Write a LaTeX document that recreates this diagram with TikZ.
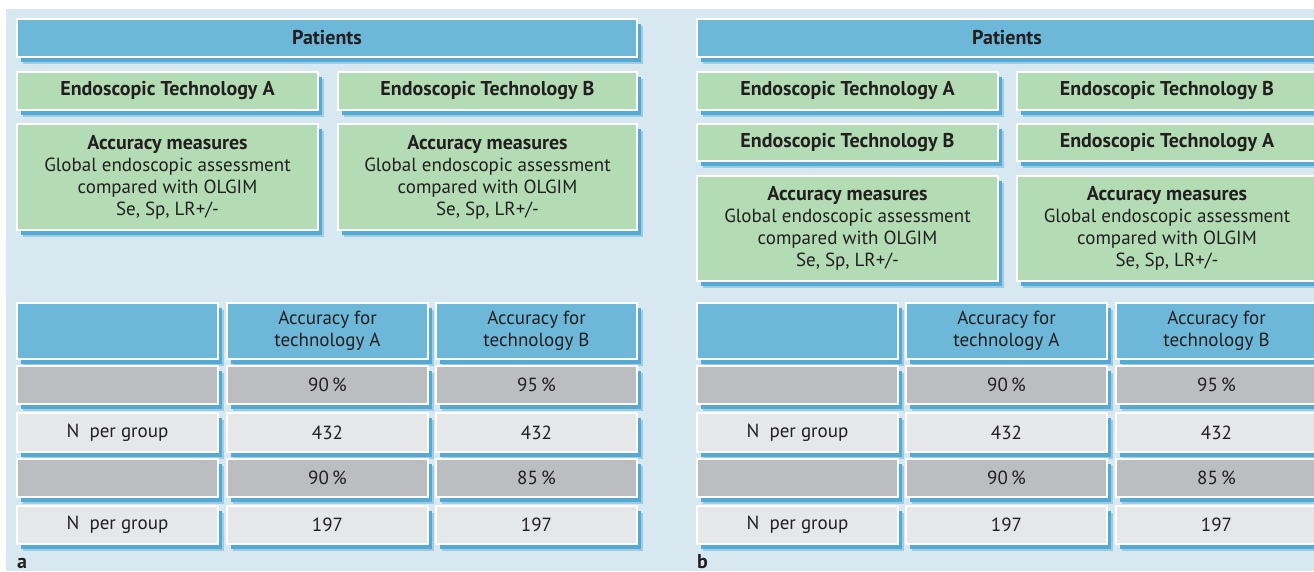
\documentclass[tikz,border=0pt]{standalone}
\usepackage{fontspec}
\setmainfont{PT Sans}
\usetikzlibrary{shadows}
\definecolor{bgc}{HTML}{D8E8F1}
\definecolor{hblue}{HTML}{6DB8D9}
\definecolor{gfill}{HTML}{B3DCB4}
\definecolor{dgray}{HTML}{BCBDC1}
\definecolor{lgray}{HTML}{E6E7E9}
\definecolor{shc}{HTML}{55AAD3}
\definecolor{txt}{HTML}{231F20}
\tikzset{
  cell/.style={draw=white, line width=1.4pt, inner sep=0pt, outer sep=0pt, anchor=north west,
    align=center, text=txt, font=\fontsize{19}{22}\selectfont,
    general shadow={shadow xshift=5.5pt, shadow yshift=-6.5pt, fill=shc!45!bgc},
    general shadow={shadow xshift=4pt, shadow yshift=-5pt, fill=shc}},
  hb/.style={cell, fill=hblue},
  gb/.style={cell, fill=gfill},
  dg/.style={cell, fill=dgray},
  lg/.style={cell, fill=lgray},
  bold/.style={font=\fontsize{20}{22}\selectfont\bfseries},
  plabel/.style={anchor=base west, inner sep=0pt, text=txt, font=\fontsize{20}{22}\selectfont\bfseries}
}
\newcommand{\accm}{{\fontsize{20}{22}\selectfont\bfseries Accuracy measures}\\Global endoscopic assessment\\compared with OLGIM\\Se, Sp, LR+/-}
\begin{document}
\begin{tikzpicture}[x=1pt, y=-1pt]
\clip (0,0) rectangle (1314,571);
\fill[white] (0,0) rectangle (1314,571);
\fill[bgc] (6,9) rectangle (1314,571);
% ---------- panel a ----------
\node[hb, bold, minimum width=620pt, minimum height=38pt] (pa) at (17,19) {Patients};
\node[gb, bold, minimum width=301pt, minimum height=38pt] (ta1) at (17,72) {Endoscopic Technology A};
\node[gb, bold, minimum width=299pt, minimum height=38pt] (ta2) at (338,72) {Endoscopic Technology B};
\node[gb, minimum width=301pt, minimum height=106pt] (aa1) at (17,124) {\accm};
\node[gb, minimum width=299pt, minimum height=106pt] (aa2) at (338,124) {\accm};
% table a
\node[hb, minimum width=201pt, minimum height=56pt] (ah0) at (17,303) {};
\node[hb, minimum width=201pt, minimum height=56pt] (ah1) at (227,303) {Accuracy for\\technology A};
\node[hb, minimum width=201pt, minimum height=56pt] (ah2) at (436,303) {Accuracy for\\technology B};
\node[dg, minimum width=201pt, minimum height=38pt] (ar10) at (17,366) {};
\node[dg, minimum width=201pt, minimum height=38pt] (ar11) at (227,366) {90\,\%};
\node[dg, minimum width=201pt, minimum height=38pt] (ar12) at (436,366) {95\,\%};
\node[lg, minimum width=201pt, minimum height=39pt] (ar20) at (17,413) {N\ \ per group};
\node[lg, minimum width=201pt, minimum height=39pt] (ar21) at (227,413) {432};
\node[lg, minimum width=201pt, minimum height=39pt] (ar22) at (436,413) {432};
\node[dg, minimum width=201pt, minimum height=38pt] (ar30) at (17,459) {};
\node[dg, minimum width=201pt, minimum height=38pt] (ar31) at (227,459) {90\,\%};
\node[dg, minimum width=201pt, minimum height=38pt] (ar32) at (436,459) {85\,\%};
\node[lg, minimum width=201pt, minimum height=38pt] (ar40) at (17,506) {N\ \ per group};
\node[lg, minimum width=201pt, minimum height=38pt] (ar41) at (227,506) {197};
\node[lg, minimum width=201pt, minimum height=38pt] (ar42) at (436,506) {197};
\node[plabel] (la) at (17,568) {a};
% ---------- panel b ----------
\node[hb, bold, minimum width=620pt, minimum height=38pt] (pb) at (697,19) {Patients};
\node[gb, bold, minimum width=301pt, minimum height=38pt] (tb1) at (697,72) {Endoscopic Technology A};
\node[gb, bold, minimum width=300pt, minimum height=38pt] (tb2) at (1017,72) {Endoscopic Technology B};
\node[gb, bold, minimum width=301pt, minimum height=37pt] (tb3) at (697,124) {Endoscopic Technology B};
\node[gb, bold, minimum width=300pt, minimum height=37pt] (tb4) at (1017,124) {Endoscopic Technology A};
\node[gb, minimum width=301pt, minimum height=105pt] (ab1) at (697,176) {\accm};
\node[gb, minimum width=300pt, minimum height=105pt] (ab2) at (1017,176) {\accm};
% table b
\node[hb, minimum width=201pt, minimum height=56pt] (bh0) at (697,303) {};
\node[hb, minimum width=201pt, minimum height=56pt] (bh1) at (906,303) {Accuracy for\\technology A};
\node[hb, minimum width=201pt, minimum height=56pt] (bh2) at (1116,303) {Accuracy for\\technology B};
\node[dg, minimum width=201pt, minimum height=38pt] (br10) at (697,366) {};
\node[dg, minimum width=201pt, minimum height=38pt] (br11) at (906,366) {90\,\%};
\node[dg, minimum width=201pt, minimum height=38pt] (br12) at (1116,366) {95\,\%};
\node[lg, minimum width=201pt, minimum height=39pt] (br20) at (697,413) {N\ \ per group};
\node[lg, minimum width=201pt, minimum height=39pt] (br21) at (906,413) {432};
\node[lg, minimum width=201pt, minimum height=39pt] (br22) at (1116,413) {432};
\node[dg, minimum width=201pt, minimum height=38pt] (br30) at (697,459) {};
\node[dg, minimum width=201pt, minimum height=38pt] (br31) at (906,459) {90\,\%};
\node[dg, minimum width=201pt, minimum height=38pt] (br32) at (1116,459) {85\,\%};
\node[lg, minimum width=201pt, minimum height=38pt] (br40) at (697,506) {N\ \ per group};
\node[lg, minimum width=201pt, minimum height=38pt] (br41) at (906,506) {197};
\node[lg, minimum width=201pt, minimum height=38pt] (br42) at (1116,506) {197};
\node[plabel] (lb) at (697,568) {b};
\end{tikzpicture}
\end{document}
